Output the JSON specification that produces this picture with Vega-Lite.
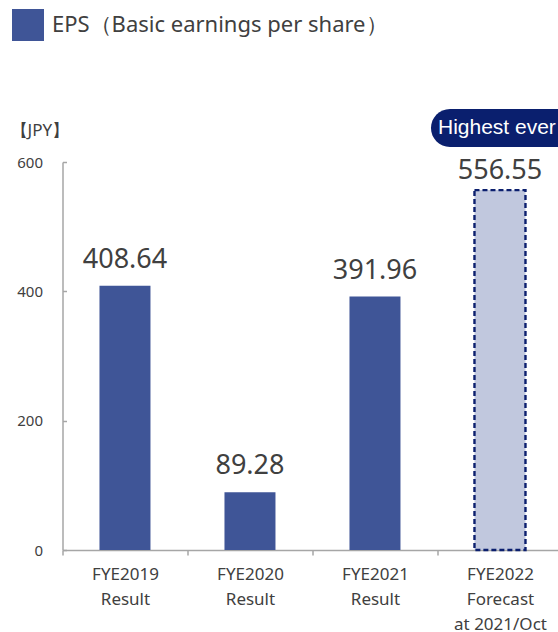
{
  "$schema": "https://vega.github.io/schema/vega-lite/v6.json",
  "width": 495.5,
  "height": 388,
  "autosize": {"type": "none"},
  "padding": {"left": 62.5, "top": 162, "right": 0, "bottom": 82},
  "background": "#ffffff",
  "config": {
    "view": {"stroke": null},
    "font": "Noto Sans",
    "text": {"font": "Noto Sans"}
  },
  "data": {
    "values": [
      {"period": "FYE2019|Result", "status": "Result", "eps": 408.64, "series": "EPS（Basic earnings per share）", "note": null},
      {"period": "FYE2020|Result", "status": "Result", "eps": 89.28, "series": "EPS（Basic earnings per share）", "note": null},
      {"period": "FYE2021|Result", "status": "Result", "eps": 391.96, "series": "EPS（Basic earnings per share）", "note": null},
      {"period": "FYE2022|Forecast|at 2021/Oct", "status": "Forecast", "eps": 556.55, "series": "EPS（Basic earnings per share）", "note": "Highest ever"}
    ]
  },
  "encoding": {
    "x": {
      "field": "period",
      "type": "nominal",
      "sort": null,
      "scale": {"paddingInner": 0.592, "paddingOuter": 0.278, "align": 0.532},
      "axis": {
        "title": null,
        "labelAngle": 0,
        "labelExpr": "isValid(datum.value) ? split(datum.value, '|') : ''",
        "labelFont": "Noto Sans",
        "labelFontSize": 17,
        "labelColor": "#404040",
        "labelLineHeight": 25,
        "labelPadding": 11,
        "labelBaseline": "top",
        "tickOffset": -62.5,
        "labelOffset": 62.5,
        "tickSize": 5,
        "tickColor": "#A6A6A6",
        "tickWidth": 1.5,
        "domainColor": "#A6A6A6",
        "domainWidth": 1.5
      }
    },
    "y": {
      "field": "eps",
      "type": "quantitative",
      "scale": {"domain": [0, 600], "nice": false},
      "axis": {
        "title": "【JPY】",
        "titleAngle": 0,
        "titleAlign": "left",
        "titleBaseline": "middle",
        "titleX": -52.5,
        "titleY": -32,
        "titleFont": "Noto Sans",
        "titleFontSize": 17,
        "titleFontWeight": "normal",
        "titleColor": "#404040",
        "values": [0, 200, 400, 600],
        "grid": false,
        "labelFont": "Noto Sans",
        "labelFontSize": 15,
        "labelColor": "#404040",
        "labelPadding": 24,
        "tickSize": -4,
        "tickColor": "#A6A6A6",
        "tickWidth": 1.5,
        "domainColor": "#A6A6A6",
        "domainWidth": 1.5
      }
    }
  },
  "layer": [
    {
      "transform": [{"filter": "datum.status === 'Result'"}],
      "mark": {"type": "bar"},
      "encoding": {
        "color": {
          "field": "series",
          "type": "nominal",
          "scale": {"range": ["#3F5597"]},
          "legend": {
            "title": null,
            "orient": "none",
            "legendX": -50.5,
            "legendY": -153,
            "padding": 0,
            "symbolType": "square",
            "symbolSize": 1024,
            "symbolStrokeWidth": 0,
            "labelFont": "Noto Sans",
            "labelFontSize": 22,
            "labelColor": "#404040",
            "labelOffset": 8,
            "labelLimit": 500
          }
        }
      }
    },
    {
      "transform": [{"filter": "datum.status === 'Forecast'"}],
      "mark": {
        "type": "bar",
        "fill": "#C1C8DE",
        "stroke": "#0B1F6E",
        "strokeWidth": 2.4,
        "strokeDash": [5, 3]
      }
    },
    {
      "transform": [{"filter": "datum.status === 'Result'"}],
      "mark": {"type": "text", "fontSize": 27, "color": "#404040", "baseline": "alphabetic", "dy": -18},
      "encoding": {"text": {"field": "eps", "type": "quantitative", "format": ".2f"}}
    },
    {
      "transform": [{"filter": "datum.status === 'Forecast'"}],
      "mark": {"type": "text", "fontSize": 27, "color": "#404040", "baseline": "alphabetic", "dy": -11},
      "encoding": {"text": {"field": "eps", "type": "quantitative", "format": ".2f"}}
    },
    {
      "transform": [{"filter": "datum.note !== null"}],
      "mark": {
        "type": "rect",
        "color": "#0A1F6E",
        "cornerRadius": 19,
        "xOffset": -69,
        "x2Offset": 80,
        "yOffset": -81,
        "y2Offset": -43
      },
      "encoding": {
        "x": {"field": "period", "type": "nominal", "sort": null, "bandPosition": 0.5},
        "x2": {"field": "period", "bandPosition": 0.5},
        "y": {"field": "eps", "type": "quantitative"},
        "y2": {"field": "eps"}
      }
    },
    {
      "transform": [{"filter": "datum.note !== null"}],
      "mark": {
        "type": "text",
        "font": "Liberation Sans",
        "fontSize": 21,
        "color": "#ffffff",
        "align": "left",
        "baseline": "middle",
        "dx": -62,
        "dy": -62
      },
      "encoding": {"text": {"field": "note", "type": "nominal"}}
    }
  ]
}
